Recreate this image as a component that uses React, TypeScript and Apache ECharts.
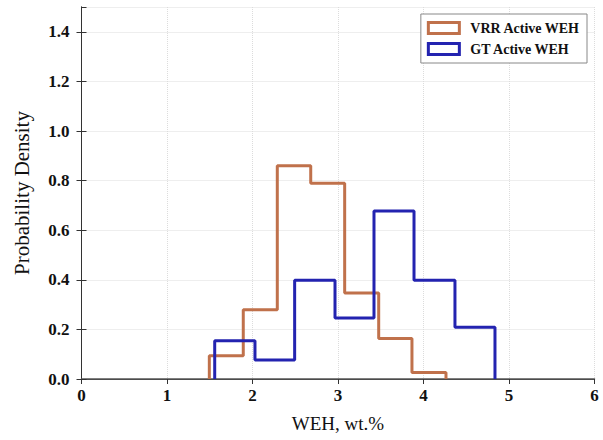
import React, { useEffect, useRef } from "react";
import * as echarts from "echarts";

const vrrEdges = [1.495, 1.892, 2.29, 2.681, 3.078, 3.476, 3.865, 4.263];
const vrrDensity = [0.094, 0.279, 0.86, 0.789, 0.347, 0.163, 0.026];
const gtEdges = [1.558, 2.029, 2.493, 2.965, 3.421, 3.889, 4.368, 4.836];
const gtDensity = [0.154, 0.077, 0.398, 0.246, 0.677, 0.398, 0.209];
const seriesNames = ["VRR Active WEH", "GT Active WEH"];
const seriesColors = ["#c0714b", "#2323b0"];

function outline(edges: number[], h: number[]): number[][] {
  const pts: number[][] = [[edges[0], 0]];
  for (let i = 0; i < h.length; i++) {
    pts.push([edges[i], h[i]]);
    pts.push([edges[i + 1], h[i]]);
  }
  pts.push([edges[edges.length - 1], 0]);
  return pts;
}

const serif = "'Liberation Serif', 'DejaVu Serif', serif";

export default function App() {
  const ref = useRef<HTMLDivElement>(null);
  useEffect(() => {
    if (!ref.current) return;
    const chart = echarts.init(ref.current, null, { renderer: "svg" });
    const lineCol = "#333";
    const split = { show: true, lineStyle: { color: "#dcdcdc", type: "dotted" as const, width: 1 } };
    chart.setOption({
      animation: false,
      backgroundColor: "#fff",
      grid: { left: 81.5, right: 8.5, top: 7, bottom: 61, containLabel: false },
      legend: {
        right: 16,
        top: 14,
        orient: "vertical",
        itemWidth: 31,
        itemHeight: 11,
        itemGap: 7,
        padding: [7, 7, 7, 6],
        borderColor: "#888",
        borderWidth: 1,
        backgroundColor: "#fff",
        textStyle: { fontFamily: serif, fontWeight: "bold", fontSize: 14, color: "#111", padding: [0, 0, 0, 6] },
        data: seriesNames.map((n, i) => ({
          name: n,
          icon: "rect",
          itemStyle: { color: "transparent", borderColor: seriesColors[i], borderWidth: 3 },
        })),
      },
      xAxis: [
        {
          type: "value",
          min: 0,
          max: 6,
          interval: 1,
          name: "WEH, wt.%",
          nameLocation: "middle",
          nameGap: 35,
          nameTextStyle: { fontFamily: serif, fontSize: 19, color: "#111" },
          axisLine: { show: true, lineStyle: { color: lineCol, width: 1 } },
          axisTick: { show: true, inside: false, length: 5, lineStyle: { color: lineCol } },
          axisLabel: { fontFamily: serif, fontWeight: "bold", fontSize: 17, color: "#111", margin: 8 },
          splitLine: split,
        },
        {
          type: "value",
          position: "top",
          min: 0,
          max: 6,
          interval: 1,
          axisLine: { show: true, lineStyle: { color: "#555", width: 1.5 } },
          axisTick: { show: false },
          axisLabel: { show: false },
          splitLine: { show: false },
        },
      ],
      yAxis: [
        {
          type: "value",
          min: 0,
          max: 1.5,
          interval: 0.2,
          name: "Probability Density",
          nameLocation: "middle",
          nameGap: 49,
          nameTextStyle: { fontFamily: serif, fontSize: 21, color: "#111" },
          axisLine: { show: true, lineStyle: { color: lineCol, width: 1 } },
          axisTick: { show: true, inside: false, length: 5, lineStyle: { color: lineCol } },
          axisLabel: {
            fontFamily: serif,
            fontWeight: "bold",
            fontSize: 17,
            color: "#111",
            margin: 12,
            showMaxLabel: false,
            formatter: (v: number) => (v > 1.45 ? "" : v.toFixed(1)),
          },
          splitLine: split,
        },
        {
          type: "value",
          position: "right",
          min: 0,
          max: 1.5,
          interval: 0.2,
          axisLine: { show: true, lineStyle: { color: lineCol, width: 1 } },
          axisTick: { show: true, inside: false, length: 5, lineStyle: { color: lineCol } },
          axisLabel: { show: false },
          splitLine: { show: false },
        },
      ],
      series: [
        {
          name: seriesNames[0],
          type: "line",
          data: outline(vrrEdges, vrrDensity),
          showSymbol: false,
          symbol: "none",
          color: seriesColors[0],
          lineStyle: { color: seriesColors[0], width: 3 },
          xAxisIndex: 0,
          yAxisIndex: 0,
          z: 3,
        },
        {
          name: seriesNames[1],
          type: "line",
          data: outline(gtEdges, gtDensity),
          showSymbol: false,
          symbol: "none",
          color: seriesColors[1],
          lineStyle: { color: seriesColors[1], width: 3 },
          xAxisIndex: 0,
          yAxisIndex: 0,
          z: 4,
        },
      ],
    });
    return () => chart.dispose();
  }, []);
  return <div ref={ref} style={{ width: 603, height: 440, position: "absolute", left: 0, top: 0 }} />;
}
